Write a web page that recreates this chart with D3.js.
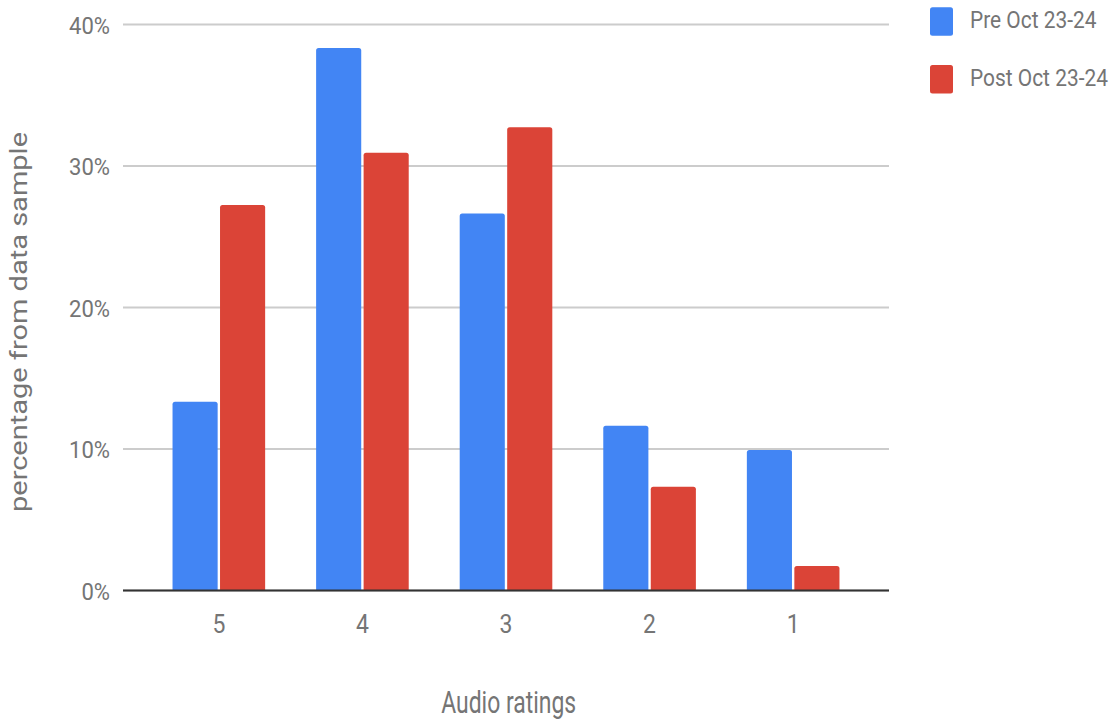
<!DOCTYPE html>
<html>
<head>
<meta charset="utf-8">
<script src="https://cdn.jsdelivr.net/npm/d3@7"></script>
<style>
  html, body { margin: 0; padding: 0; background: #fff; }
  svg { display: block; }
  text { font-family: Roboto, "Noto Sans", sans-serif; fill: #757575; }
</style>
</head>
<body>
<svg id="chart" width="1119" height="721"></svg>
<script>
// Audio ratings, share of responses before and after Oct 23-24
const ratings = ["5", "4", "3", "2", "1"];
const seriesNames = ["Pre Oct 23-24", "Post Oct 23-24"];
const seriesColors = ["#4285F4", "#DB4437"];
const preValues  = [13.3, 38.3, 26.6, 11.6, 9.9];
const postValues = [27.2, 30.9, 32.7, 7.3, 1.7];
const yTicks = [0, 10, 20, 30, 40];

const svg = d3.select("#chart");
const plotLeft = 123, plotRight = 889, plotTop = 24, plotBottom = 590;

const x0 = d3.scaleBand().domain(ratings).range([plotLeft, plotRight])
  .paddingInner(0.355).paddingOuter(0.345);
const x1 = d3.scaleBand().domain(seriesNames).range([0, x0.bandwidth()])
  .paddingInner(0.05);
const y = d3.scaleLinear().domain([0, 40]).range([plotBottom, plotTop]);

// text helper: narrow glyphs via horizontal scale around the anchor point
function label(parent, x, yy, str, size, sx, anchor, fill) {
  return parent.append("text")
    .attr("transform", `translate(${x},${yy}) scale(${sx},1)`)
    .attr("text-anchor", anchor).attr("font-size", size)
    .attr("fill", fill || "#757575").text(str);
}

// horizontal gridlines
const yAxis = d3.axisLeft(y).tickValues(yTicks)
  .tickFormat("").tickSize(-(plotRight - plotLeft));
const gy = svg.append("g").attr("transform", `translate(${plotLeft},0)`).call(yAxis);
gy.select(".domain").remove();
gy.selectAll(".tick line").attr("stroke", "#cccccc").attr("stroke-width", 2);

// percent labels
const yLabels = svg.append("g");
yTicks.forEach(t => label(yLabels, 110, y(t) + 9.5, t + "%", 24, 0.92, "end"));

// bars with slightly rounded top corners
function barPath(x, yTop, w, h, r) {
  r = Math.min(r, h, w / 2);
  return `M${x},${yTop + h}V${yTop + r}Q${x},${yTop} ${x + r},${yTop}` +
         `H${x + w - r}Q${x + w},${yTop} ${x + w},${yTop + r}V${yTop + h}Z`;
}
const rows = ratings.map((r, i) => ({
  rating: r,
  vals: [
    { name: seriesNames[0], v: preValues[i], c: seriesColors[0] },
    { name: seriesNames[1], v: postValues[i], c: seriesColors[1] }
  ]
}));
const groups = svg.append("g").selectAll("g").data(rows).join("g")
  .attr("transform", d => `translate(${x0(d.rating)},0)`);
groups.selectAll("path").data(d => d.vals).join("path")
  .attr("fill", d => d.c)
  .attr("d", d => barPath(x1(d.name), y(d.v), x1.bandwidth(), plotBottom - y(d.v), 2.5));

// baseline
svg.append("line").attr("x1", plotLeft).attr("x2", plotRight)
  .attr("y1", plotBottom + 0.5).attr("y2", plotBottom + 0.5)
  .attr("stroke", "#333333").attr("stroke-width", 2);

// category labels
const xLabels = svg.append("g");
ratings.forEach(r => label(xLabels, x0(r) + x0.bandwidth() / 2, 633, r, 25, 0.92, "middle"));

// axis titles
label(svg, 508.7, 713, "Audio ratings", 31, 0.74, "middle");
svg.append("text").attr("transform", "translate(27,322) rotate(-90) scale(1,0.8)")
  .attr("text-anchor", "middle").attr("font-size", 29)
  .attr("fill", "#7a7a7a")
  .text("percentage from data sample");

// legend
const legend = svg.append("g").selectAll("g").data(seriesNames).join("g")
  .attr("transform", (d, i) => `translate(930,${7.3 + i * 57.7})`);
legend.append("rect").attr("width", 23).attr("height", 28.4).attr("rx", 2.5)
  .attr("fill", (d, i) => seriesColors[i]);
legend.each(function(d) {
  label(d3.select(this), 40, 21, d, 23.5, 0.89, "start", "#666666");
});
</script>
</body>
</html>
